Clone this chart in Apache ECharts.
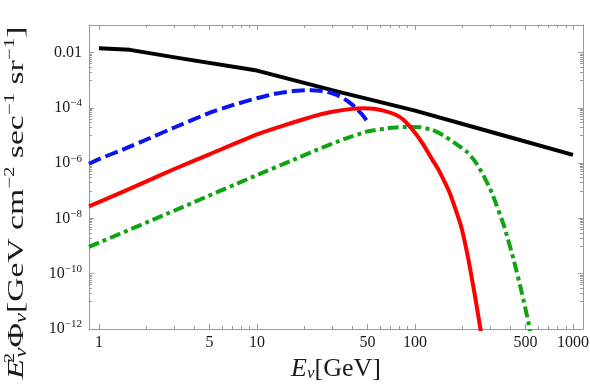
<!DOCTYPE html>
<html>
<head>
<meta charset="utf-8">
<script src="https://cdn.jsdelivr.net/npm/echarts@6/dist/echarts.min.js"></script>
<style>
html,body{margin:0;padding:0;background:#fff;}
#chart{width:590px;height:388px;}
</style>
</head>
<body>
<div id="chart"></div>
<script>
// ---- data (E in GeV, flux E^2 Phi in GeV cm^-2 s^-1 sr^-1) ----
const blackE = [1, 1.57, 3.16, 10, 31.6, 100, 316, 1000];
const blackF = [0.01445, 0.0126, 0.00646, 0.00224, 4.07e-4, 7.94e-5, 1.26e-5, 2.0e-6];

const blueE = [0.865, 1, 1.5, 2, 3, 5, 7, 10, 13, 17, 22, 27, 32, 37, 42, 46, 50.5];
const blueF = [9.5e-7, 1.41e-6, 3.55e-6, 7.2e-6, 1.95e-5, 6.6e-5, 1.26e-4, 2.24e-4, 3.24e-4, 4.07e-4, 4.4e-4, 4.0e-4, 2.95e-4, 1.86e-4, 1.05e-4, 6.0e-5, 3.0e-5];

const redE = [0.865, 1, 2, 3, 5, 10, 15, 20, 25, 30, 40, 47, 55, 63, 75, 84.5, 100, 113, 129, 141, 166, 196, 218, 238, 259, 261];
const redF = [2.75e-8, 3.89e-8, 2.19e-7, 6.17e-7, 2.09e-6, 1.10e-5, 2.40e-5, 3.98e-5, 5.75e-5, 7.24e-5, 9.23e-5, 9.77e-5, 9.33e-5, 7.94e-5, 5.75e-5, 3.72e-5, 1.26e-5, 4.68e-6, 1.32e-6, 5.75e-7, 8.32e-8, 5.13e-9, 3.24e-10, 2.0e-11, 1.10e-12, 7.9e-13];

const greenE = [0.865, 2.75, 9.73, 17.0, 23.9, 35.5, 49.5, 70.8, 88.7, 108, 128, 151, 180, 214, 240, 269, 307, 367, 421, 475, 524, 535];
const greenF = [9.33e-10, 1.55e-8, 3.47e-7, 1.32e-6, 3.02e-6, 7.41e-6, 1.38e-5, 1.91e-5, 2.04e-5, 2.0e-5, 1.62e-5, 1.02e-5, 5.25e-6, 2.51e-6, 1.17e-6, 3.98e-7, 8.32e-8, 5.13e-9, 3.24e-10, 2.0e-11, 1.62e-12, 7.9e-13];

// ---- ticks ----
const xMajorTicks = [1, 5, 10, 50, 100, 500, 1000];
const xMinorTicks = [2, 3, 4, 6, 7, 8, 9, 20, 30, 40, 60, 70, 80, 90, 200, 300, 400, 600, 700, 800, 900];
const yMajorTicks = [1e-12, 1e-10, 1e-8, 1e-6, 1e-4, 1e-2];
const yMinorTicks = [];
yMajorTicks.forEach(function (t) {
  const lower = t / 10;
  yMinorTicks.push(lower);
  [2, 3, 4, 5, 6, 7, 8, 9].forEach(function (m) { yMinorTicks.push(m * lower); });
});

const xRange = [0.865, 1157];
const yRange = [1e-12, 0.1];

const L = Math.log10;
function pairs(E, F) { return E.map(function (e, i) { return [L(e), L(F[i])]; }); }

const serif = '"Liberation Serif", "Times New Roman", serif';
const frameColor = '#9a9a9a';
const ink = '#1a1a1a';

function xAxisCfg(pos, vals, len, line, labels) {
  return {
    type: 'value', position: pos, min: L(xRange[0]), max: L(xRange[1]),
    axisLine: { show: line, onZero: false, lineStyle: { color: frameColor, width: 1 } },
    axisTick: { show: true, inside: true, length: len, customValues: vals.map(L), lineStyle: { color: frameColor, width: 1 } },
    axisLabel: labels ? {
      show: true, customValues: vals.map(L), margin: 6,
      fontFamily: serif, fontSize: 16, color: ink,
      formatter: function (v) { return String(Math.round(Math.pow(10, v))); }
    } : { show: false },
    splitLine: { show: false }
  };
}
function yAxisCfg(pos, vals, len, line, labels) {
  return {
    type: 'value', position: pos, min: L(yRange[0]), max: L(yRange[1]),
    axisLine: { show: line, onZero: false, lineStyle: { color: frameColor, width: 1 } },
    axisTick: { show: true, inside: true, length: len, customValues: vals.map(L), lineStyle: { color: frameColor, width: 1 } },
    axisLabel: labels ? {
      show: true, customValues: vals.map(L), margin: 7,
      fontFamily: serif, fontSize: 16, color: ink,
      formatter: function (v) {
        const e = Math.round(v);
        if (e === -2) return '{b|0.01}';
        return '{b|10}{s|\u2212' + (-e) + '}';
      },
      rich: {
        b: { fontFamily: serif, fontSize: 16, color: ink },
        s: { fontFamily: serif, fontSize: 11, color: ink, padding: [0, 0, 9, 0] }
      }
    } : { show: false },
    splitLine: { show: false }
  };
}

const xAxes = [
  xAxisCfg('bottom', xMajorTicks, 5, true, true),
  xAxisCfg('bottom', xMinorTicks, 3, false, false),
  xAxisCfg('top', xMajorTicks, 5, true, false),
  xAxisCfg('top', xMinorTicks, 3, false, false)
];
xAxes[0].name = '{i|E}{sub|\u03bd}{r|[GeV]}';
xAxes[0].nameLocation = 'middle';
xAxes[0].nameGap = 24;
xAxes[0].nameTextStyle = {
  rich: {
    i: { fontFamily: serif, fontStyle: 'italic', fontSize: 26, color: ink },
    sub: { fontFamily: serif, fontStyle: 'italic', fontSize: 17, color: ink, padding: [10, 0, 0, 0] },
    r: { fontFamily: serif, fontSize: 26, color: ink }
  }
};

const yAxes = [
  yAxisCfg('left', yMajorTicks, 5, true, true),
  yAxisCfg('left', yMinorTicks, 3, false, false),
  yAxisCfg('right', yMajorTicks, 5, true, false),
  yAxisCfg('right', yMinorTicks, 3, false, false)
];

const yTitle = '{i|E}{sup2|2}{sub|\u03bd}{r|\u03a6}{sub|\u03bd}{r|[GeV cm}{sup|\u22122}{r| sec}{sup|\u22121}{r| sr}{sup|\u22121}{r|]}';
function tok(o) { o.fill = ink; o.fontFamily = serif; return o; }
const yTitleRich = {
  i: tok({ fontStyle: 'italic', fontSize: 24 }),
  sup2: tok({ fontSize: 15, padding: [0, 0, 14, 0], width: 1 }),
  sup: tok({ fontSize: 15, padding: [0, 0, 14, 0] }),
  sub: tok({ fontStyle: 'italic', fontSize: 16, padding: [10, 0, 0, 0] }),
  r: tok({ fontSize: 24 })
};

function lineSeries(name, data, color, type, smooth) {
  return {
    name: name, type: 'line', data: data, xAxisIndex: 0, yAxisIndex: 0,
    showSymbol: false, symbol: 'none', smooth: smooth, clip: true,
    lineStyle: { color: color, width: 4, type: type, cap: 'butt', join: 'round' },
    emphasis: { disabled: true }, animation: false, z: 3
  };
}

const chart = echarts.init(document.getElementById('chart'), null, { renderer: 'canvas' });
chart.setOption({
  animation: false,
  backgroundColor: '#ffffff',
  grid: { left: 89, right: 7, top: 25, bottom: 59, containLabel: false, outerBoundsMode: 'none' },
  xAxis: xAxes,
  yAxis: yAxes,
  graphic: [{
    type: 'text', x: 17, y: 203, rotation: Math.PI / 2, scaleX: 1.4, scaleY: 1,
    silent: true,
    style: { text: yTitle, rich: yTitleRich, align: 'center', verticalAlign: 'middle', fill: ink, font: '24px ' + serif }
  }],
  series: [
    lineSeries('atm', pairs(blackE, blackF), '#000000', 'solid', false),
    lineSeries('blue', pairs(blueE, blueF), '#0a14f0', [13, 5], 0.15),
    lineSeries('green', pairs(greenE, greenF), '#12a312', [11, 4, 4, 4], 0.15),
    lineSeries('red', pairs(redE, redF), '#ff0000', 'solid', 0.15)
  ]
});
</script>
</body>
</html>
